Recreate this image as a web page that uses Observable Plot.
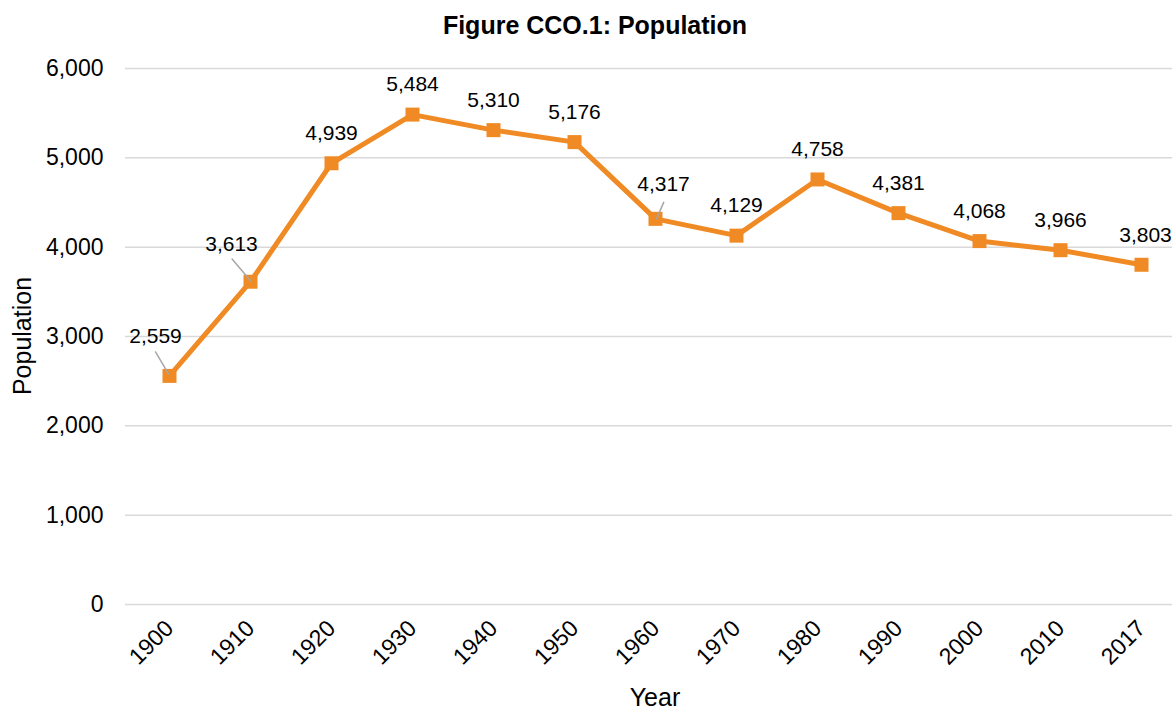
<!DOCTYPE html>
<html>
<head>
<meta charset="utf-8">
<script src="https://cdn.jsdelivr.net/npm/d3@7"></script>
<script src="https://cdn.jsdelivr.net/npm/@observablehq/plot@0.6"></script>
<style>
  html, body { margin: 0; padding: 0; background: #fff; }
  body { width: 1172px; height: 709px; position: relative; overflow: hidden; font-family: "Liberation Sans", Arial, sans-serif; }
  #title { position: absolute; top: 11px; left: 0; width: 1190px; text-align: center; font-weight: bold; font-size: 25px; line-height: 28px; color: #000; }
  #ylab { position: absolute; left: 22px; top: 336px; transform: translate(-50%, -50%) rotate(-90deg); font-size: 25px; white-space: nowrap; color: #000; }
  #xlab { position: absolute; left: 655px; top: 697px; transform: translate(-50%, -50%); font-size: 25px; white-space: nowrap; color: #000; }
  #chart { position: absolute; left: 0; top: 0; }
</style>
</head>
<body>
<div id="chart"></div>
<div id="title">Figure CCO.1: Population</div>
<div id="ylab">Population</div>
<div id="xlab">Year</div>
<script>
// ---- data ----
const years = ["1900", "1910", "1920", "1930", "1940", "1950", "1960", "1970", "1980", "1990", "2000", "2010", "2017"];
const population = [2559, 3613, 4939, 5484, 5310, 5176, 4317, 4129, 4758, 4381, 4068, 3966, 3803];
const yTicks = [0, 1000, 2000, 3000, 4000, 5000, 6000];

const data = years.map((year, i) => ({year, value: population[i]}));

// ---- styling ----
const ORANGE = "#F08A24";
const fmt = d3.format(",");
// label nudges (pixels) for labels that are displaced in the original
const labelNudge = {"1900": [-14, -40], "1910": [-19, -37], "1960": [8, -35], "2017": [4, -29]};
const defaultNudge = [0, -30];
// leader lines: [dx, dy, length, rotate]
const leaders = {"1900": [-1, -2, 25.5, -30.6], "1910": [0, -1, 28.5, -40.3], "1960": [1, 0, 18, 23.7]};
const lineShape = {draw(context, l) { context.moveTo(0, 0); context.lineTo(0, -l); }};

const labelMarks = [];
const defaultData = data.filter(d => !(d.year in labelNudge));
labelMarks.push(Plot.text(defaultData, {x: "year", y: "value", text: d => fmt(d.value), dx: defaultNudge[0], dy: defaultNudge[1], fontSize: 21, fill: "#000"}));
for (const [yr, [dx, dy]] of Object.entries(labelNudge)) {
  labelMarks.push(Plot.text(data.filter(d => d.year === yr), {x: "year", y: "value", text: d => fmt(d.value), dx, dy, fontSize: 21, fill: "#000"}));
}
const leaderMarks = Object.entries(leaders).map(([yr, [dx, dy, len, rot]]) =>
  Plot.vector(data.filter(d => d.year === yr), {x: "year", y: "value", dx, dy, length: len, rotate: rot, anchor: "start", shape: lineShape, stroke: "#a6a6a6", strokeWidth: 1.5})
);

const chart = Plot.plot({
  width: 1172,
  height: 709,
  marginLeft: 125,
  marginRight: 0,
  marginTop: 68,
  marginBottom: 105,
  style: {fontFamily: "'Liberation Sans', Arial, sans-serif", fontSize: "20px", color: "#000", background: "#fff", overflow: "visible"},
  x: {type: "point", domain: years, range: [166, 1144], padding: 0, label: null},
  y: {domain: [0, 6000], label: null},
  marks: [
    Plot.ruleY(yTicks, {stroke: "#d9d9d9", strokeWidth: 1.5}),
    Plot.axisY({ticks: yTicks, tickFormat: fmt, tickSize: 0, tickPadding: 22, fontSize: 23, label: null}),
    Plot.axisX({tickSize: 0, tickRotate: -45, tickPadding: 20, fontSize: 23, label: null}),
    Plot.line(data, {x: "year", y: "value", stroke: ORANGE, strokeWidth: 5, strokeLinejoin: "miter"}),
    Plot.dot(data, {x: "year", y: "value", symbol: "square", r: 7.9, fill: ORANGE, stroke: null}),
    ...leaderMarks,
    ...labelMarks
  ]
});
document.getElementById("chart").appendChild(chart);
</script>
</body>
</html>
